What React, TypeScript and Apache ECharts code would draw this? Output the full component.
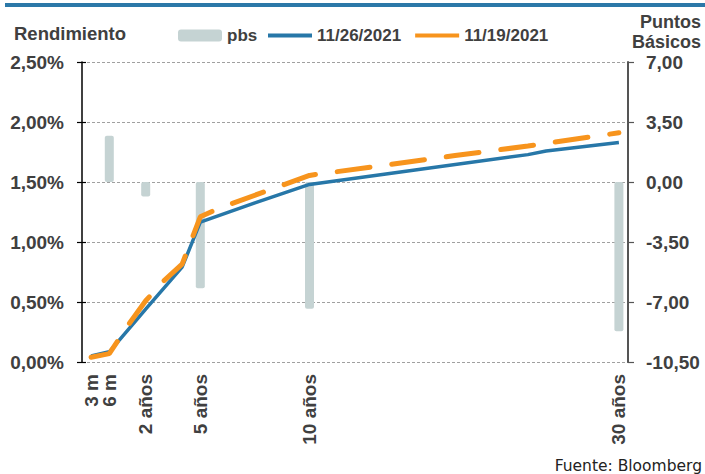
import React, { useEffect, useRef } from "react";
import * as echarts from "echarts";

// Tenor slots (category axis); only some carry a visible label
const tenorLabels: string[] = [
  "3 m", "6 m", "", "2 años", "", "", "5 años", "", "", "", "", "", "10 años",
  "", "", "", "", "", "", "", "", "", "", "", "", "", "", "", "", "30 años",
];
const categories: string[] = tenorLabels.map((_, i) => String(i));

// Yield curve 11/26/2021 (%)
const curve1126: (number | null)[] = [
  0.05, 0.085, null, 0.44, null, 0.79, 1.165, null, null, 1.326, null, null, 1.48,
  null, null, null, null, null, 1.604, null, null, null, null, null, 1.728, 1.758,
  null, null, null, 1.83,
];
// Yield curve 11/19/2021 (%)
const curve1119: (number | null)[] = [
  0.04, 0.07, 0.3, 0.51, 0.677, 0.815, 1.21, 1.28, null, null, null, null, 1.555,
  null, null, null, null, null, null, null, 1.72, null, null, null, 1.8, null,
  null, null, null, 1.91,
];
// Change in basis points
const pbs: (number | null)[] = [
  null, 2.7, null, -0.85, null, null, -6.2, null, null, null, null, null, -7.4,
  null, null, null, null, null, null, null, null, null, null, null, null, null,
  null, null, null, -8.7,
];

const FONT = "'Liberation Sans', Arial, sans-serif";
const TXT = "#404040";

export default function App() {
  const ref = useRef<HTMLDivElement>(null);
  useEffect(() => {
    if (!ref.current) return;
    const chart = echarts.init(ref.current, undefined, { renderer: "svg" });
    const comma = (v: number, d: number) => v.toFixed(d).replace(".", ",");
    const labelStyle = { fontSize: 19, fontWeight: "bold" as const, color: TXT, fontFamily: FONT };
    const legendText = { fontSize: 17, fontWeight: "bold" as const, color: TXT, fontFamily: FONT };
    chart.setOption({
      animation: false,
      grid: { left: 82, right: 77, top: 62, bottom: 112, containLabel: false },
      legend: [
        {
          data: ["pbs"],
          left: 178,
          top: 27,
          padding: 0,
          itemWidth: 44,
          itemHeight: 12,
          icon: "roundRect",
          itemGap: 14,
          textStyle: legendText,
          selectedMode: false,
        },
        {
          data: ["11/26/2021", "11/19/2021"],
          left: 268,
          top: 27,
          padding: 0,
          itemWidth: 44,
          itemHeight: 4,
          icon: "rect",
          itemGap: 14,
          textStyle: legendText,
          selectedMode: false,
        },
      ],
      xAxis: {
        type: "category",
        data: categories,
        boundaryGap: true,
        axisLine: { show: false },
        axisTick: { show: false },
        axisLabel: {
          interval: 0,
          rotate: 90,
          margin: 12,
          ...labelStyle,
          formatter: (_v: string, i: number) => tenorLabels[i],
        },
        splitLine: { show: false },
      },
      yAxis: [
        {
          type: "value",
          position: "left",
          min: 0,
          max: 2.5,
          interval: 0.5,
          axisLine: { show: true, lineStyle: { color: "#000", width: 1.5 } },
          axisTick: { show: true, length: 5, lineStyle: { color: "#000", width: 1.2 } },
          axisLabel: { ...labelStyle, margin: 18, formatter: (v: number) => comma(v, 2) + "%" },
          splitLine: { show: true, lineStyle: { type: [3, 2], color: "#a0a0a0", width: 1 } },
        },
        {
          type: "value",
          position: "right",
          min: -10.5,
          max: 7,
          interval: 3.5,
          axisLine: { show: true, lineStyle: { color: "#555", width: 2 } },
          axisTick: { show: true, length: 6, lineStyle: { color: "#555", width: 1.2 } },
          axisLabel: { ...labelStyle, margin: 18, formatter: (v: number) => comma(v, 2) },
          splitLine: { show: false },
        },
        {
          type: "value",
          position: "left",
          min: 0,
          max: 2.5,
          interval: 0.5,
          axisLine: { show: false },
          axisTick: { show: true, inside: true, length: 4, lineStyle: { color: "#000", width: 1.2 } },
          axisLabel: { show: false },
          splitLine: { show: false },
        },
      ],
      series: [
        {
          name: "pbs",
          type: "bar",
          yAxisIndex: 1,
          data: pbs,
          barWidth: 9,
          itemStyle: { color: "#c5d3d3", borderRadius: 2 },
          z: 1,
        },
        {
          name: "11/26/2021",
          type: "line",
          yAxisIndex: 0,
          data: curve1126,
          connectNulls: true,
          symbol: "none",
          showSymbol: false,
          itemStyle: { color: "#2777a8" },
          lineStyle: { color: "#2777a8", width: 3.5 },
          z: 3,
        },
        {
          name: "11/19/2021",
          type: "line",
          yAxisIndex: 0,
          data: curve1119,
          connectNulls: true,
          symbol: "none",
          showSymbol: false,
          itemStyle: { color: "#f7941d" },
          lineStyle: { color: "#f7941d", width: 5, type: [33, 22], cap: "round" },
          z: 4,
        },
      ],
      graphic: [
        { type: "rect", left: 5, top: 3, shape: { width: 700, height: 4 }, style: { fill: "#2b78a8" } },
        {
          type: "text",
          x: 14,
          y: 33,
          style: { text: "Rendimiento", font: `bold 18.5px ${FONT}`, fill: TXT, verticalAlign: "middle" },
        },
        {
          type: "text",
          x: 701,
          y: 22,
          style: { text: "Puntos", font: `bold 18px ${FONT}`, fill: TXT, align: "right", verticalAlign: "middle" },
        },
        {
          type: "text",
          x: 701,
          y: 42,
          style: { text: "Básicos", font: `bold 18px ${FONT}`, fill: TXT, align: "right", verticalAlign: "middle" },
        },
        {
          type: "text",
          x: 702,
          y: 466,
          style: {
            text: "Fuente: Bloomberg",
            font: "15.5px 'DejaVu Sans', sans-serif",
            fill: "#222",
            align: "right",
            verticalAlign: "middle",
          },
        },
      ],
    });
    return () => chart.dispose();
  }, []);
  return (
    <div
      ref={ref}
      style={{ position: "fixed", left: 0, top: 0, width: 705, height: 474, background: "#fff" }}
    />
  );
}
